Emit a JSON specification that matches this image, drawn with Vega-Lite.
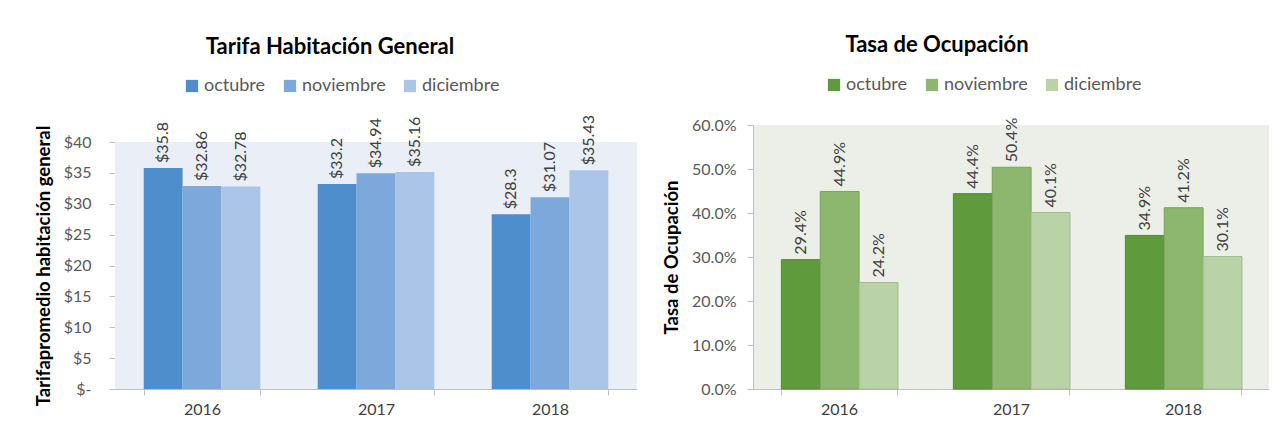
{
  "$schema": "https://vega.github.io/schema/vega-lite/v6.json",
  "background": "white",
  "padding": {"left": 34, "top": 34, "right": 10, "bottom": 5},
  "config": {
    "font": "Lato",
    "view": {"stroke": null},
    "axis": {"labelFont": "Lato", "titleFont": "Lato", "labelColor": "#595959", "labelFontSize": 16, "domainColor": "#BFBFBF", "tickColor": "#BFBFBF", "grid": false},
    "title": {"font": "Lato", "fontSize": 22, "fontWeight": "bold", "color": "#000000", "anchor": "middle"},
    "legend": {"labelFont": "Lato", "labelFontSize": 18, "labelColor": "#595959", "symbolType": "square", "symbolSize": 150, "symbolStrokeWidth": 0, "orient": "none", "direction": "horizontal", "columnPadding": 15, "labelOffset": 3, "title": null}
  },
  "datasets": {
    "tarifa": [
      {"anio": "2016", "mes": "octubre", "valor": 35.8},
      {"anio": "2016", "mes": "noviembre", "valor": 32.86},
      {"anio": "2016", "mes": "diciembre", "valor": 32.78},
      {"anio": "2017", "mes": "octubre", "valor": 33.2},
      {"anio": "2017", "mes": "noviembre", "valor": 34.94},
      {"anio": "2017", "mes": "diciembre", "valor": 35.16},
      {"anio": "2018", "mes": "octubre", "valor": 28.3},
      {"anio": "2018", "mes": "noviembre", "valor": 31.07},
      {"anio": "2018", "mes": "diciembre", "valor": 35.43}
    ],
    "ocupacion": [
      {"anio": "2016", "mes": "octubre", "valor": 0.294},
      {"anio": "2016", "mes": "noviembre", "valor": 0.449},
      {"anio": "2016", "mes": "diciembre", "valor": 0.242},
      {"anio": "2017", "mes": "octubre", "valor": 0.444},
      {"anio": "2017", "mes": "noviembre", "valor": 0.504},
      {"anio": "2017", "mes": "diciembre", "valor": 0.401},
      {"anio": "2018", "mes": "octubre", "valor": 0.349},
      {"anio": "2018", "mes": "noviembre", "valor": 0.412},
      {"anio": "2018", "mes": "diciembre", "valor": 0.301}
    ]
  },
  "hconcat": [
    {
      "title": {"text": "Tarifa Habitación General", "offset": 18, "dx": -46},
      "width": 522,
      "height": 264,
      "data": {"name": "tarifa"},
      "encoding": {
        "x": {"field": "anio", "type": "nominal", "title": null,
              "scale": {"paddingInner": 0.33, "paddingOuter": 0.165},
              "axis": {"labelAngle": 0, "tickBand": "extent", "tickSize": 6, "labelPadding": 6, "labelColor": "#404040"}},
        "y": {"type": "quantitative", "title": "Tarifapromedio habitación  general",
              "scale": {"domain": [0, 40], "nice": false, "range": [264, 17]},
              "axis": {"values": [0, 5, 10, 15, 20, 25, 30, 35, 40], "labelExpr": "datum.value == 0 ? '$-' : '$' + datum.value", "tickSize": 6, "labelPadding": 18, "titleFontSize": 18.5, "titleFontWeight": "bold", "titleColor": "#000000", "titlePadding": 10}}
      },
      "layer": [
        {
          "mark": {"type": "rect", "color": "#E9EEF7"},
          "encoding": {"y": {"datum": 40, "type": "quantitative"}, "y2": {"datum": 0}, "x": null}
        },
        {
          "mark": {"type": "bar"},
          "encoding": {
            "xOffset": {"field": "mes", "type": "nominal", "sort": ["octubre", "noviembre", "diciembre"]},
            "y": {"field": "valor", "type": "quantitative"},
            "color": {"field": "mes", "type": "nominal", "sort": ["octubre", "noviembre", "diciembre"],
                      "scale": {"domain": ["octubre", "noviembre", "diciembre"], "range": ["#4F8ECC", "#7DA8DC", "#AAC5E7"]},
                      "legend": {"legendX": 68, "legendY": -48}}
          }
        },
        {
          "mark": {"type": "text", "angle": 270, "align": "left", "baseline": "middle", "dx": 5, "fontSize": 16, "color": "#404040"},
          "encoding": {
            "xOffset": {"field": "mes", "type": "nominal", "sort": ["octubre", "noviembre", "diciembre"]},
            "y": {"field": "valor", "type": "quantitative"},
            "text": {"field": "valor", "type": "quantitative", "format": "$.4~r"}
          }
        }
      ]
    },
    {
      "title": {"text": "Tasa de Ocupación", "offset": 19, "dx": -74},
      "width": 516,
      "height": 264,
      "view": {"fill": "#ECEFE8", "stroke": null},
      "data": {"name": "ocupacion"},
      "encoding": {
        "x": {"field": "anio", "type": "nominal", "title": null,
              "scale": {"paddingInner": 0.33, "paddingOuter": 0.165},
              "axis": {"labelAngle": 0, "tickBand": "extent", "tickSize": 6, "labelPadding": 6, "labelColor": "#404040"}},
        "xOffset": {"field": "mes", "type": "nominal", "sort": ["octubre", "noviembre", "diciembre"]},
        "y": {"field": "valor", "type": "quantitative", "title": "Tasa de Ocupación",
              "scale": {"domain": [0, 0.6], "nice": false},
              "axis": {"values": [0, 0.1, 0.2, 0.3, 0.4, 0.5, 0.6], "format": ".1%", "tickSize": 6, "labelPadding": 11, "titleFontSize": 18.5, "titleFontWeight": "bold", "titleColor": "#000000", "titlePadding": 10}}
      },
      "layer": [
        {
          "mark": {"type": "bar", "strokeWidth": 1},
          "encoding": {
            "color": {"field": "mes", "type": "nominal", "sort": ["octubre", "noviembre", "diciembre"],
                      "scale": {"domain": ["octubre", "noviembre", "diciembre"], "range": ["#5F9A3C", "#8DB76E", "#BAD2A8"]},
                      "legend": {"legendX": 72, "legendY": -49}},
            "stroke": {"field": "mes", "type": "nominal",
                       "scale": {"domain": ["octubre", "noviembre", "diciembre"], "range": ["#4E8A2E", "#78A55A", "#9DBE88"]},
                       "legend": null}
          }
        },
        {
          "mark": {"type": "text", "angle": 270, "align": "left", "baseline": "middle", "dx": 5, "fontSize": 16, "color": "#404040"},
          "encoding": {"text": {"field": "valor", "type": "quantitative", "format": ".1%"}}
        }
      ]
    }
  ],
  "spacing": 25,
  "align": "none",
  "resolve": {"scale": {"color": "independent", "x": "independent", "y": "independent", "stroke": "independent"}}
}
